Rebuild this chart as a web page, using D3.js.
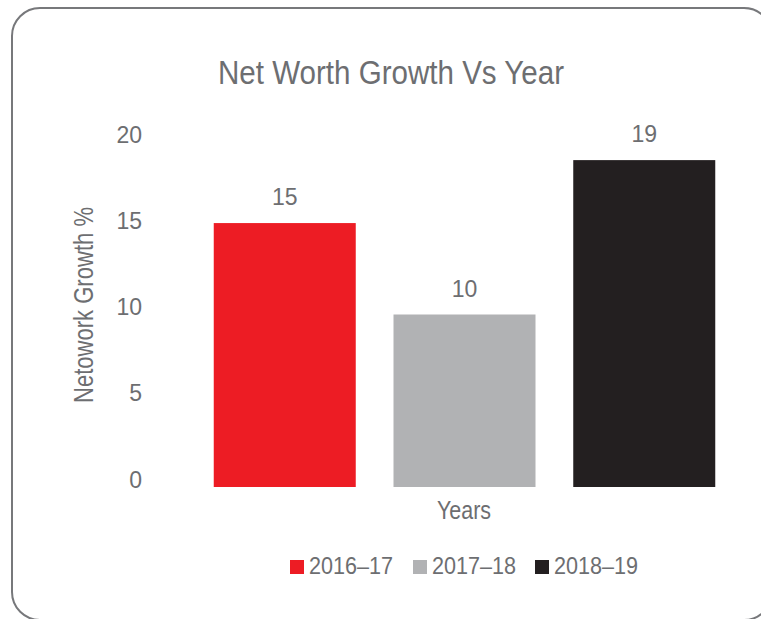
<!DOCTYPE html>
<html>
<head>
<meta charset="utf-8">
<script src="https://cdn.jsdelivr.net/npm/d3@7"></script>
<style>
  body { margin: 0; background: #fff; }
  svg { display: block; }
  text { font-family: "Liberation Sans Narrow", "Liberation Sans", Arial, sans-serif; fill: #6d6e71; }
</style>
</head>
<body>
<svg id="chart"></svg>
<script>
const categories = ["2016–17", "2017–18", "2018–19"]
const values = [15.3, 10.0, 18.95]
const colors = ["#ed1c24", "#b1b2b4", "#231f20"]
const yTicks = [0, 5, 10, 15, 20]

const width = 761
const height = 619
const fmt = d3.format(".0f")

const svg = d3.select("#chart").attr("width", width).attr("height", height)

// card border
svg.append("rect")
  .attr("x", 12).attr("y", 8)
  .attr("width", 760).attr("height", 612)
  .attr("rx", 28)
  .attr("fill", "none")
  .attr("stroke", "#77787b")
  .attr("stroke-width", 2)

svg.append("text")
  .attr("x", 218).attr("y", 84)
  .attr("font-size", 34)
  .attr("textLength", 346)
  .attr("lengthAdjust", "spacingAndGlyphs")
  .text("Net Worth Growth Vs Year")

const x = d3.scaleBand()
  .domain(categories)
  .range([176, 753])
  .padding(0.21)

const y = d3.scaleLinear()
  .domain([0, 20])
  .range([487, 142])

// y axis, labels only
svg.append("g")
  .attr("transform", "translate(148,0)")
  .call(d3.axisLeft(y).tickValues(yTicks).tickSize(0).tickPadding(6))
  .call(g => g.select(".domain").remove())
  .call(g => g.selectAll("text")
    .attr("dy", "0")
    .attr("font-size", 23)
    .attr("fill", "#6d6e71"))
  .attr("font-family", null)

svg.append("text")
  .attr("transform", "translate(93,305) rotate(-90)")
  .attr("text-anchor", "middle")
  .attr("font-size", 28)
  .attr("textLength", 196)
  .attr("lengthAdjust", "spacingAndGlyphs")
  .text("Netowork Growth %")

svg.append("g")
  .selectAll("rect")
  .data(values)
  .join("rect")
  .attr("x", (d, i) => x(categories[i]))
  .attr("y", d => y(d))
  .attr("width", x.bandwidth())
  .attr("height", d => y(0) - y(d))
  .attr("fill", (d, i) => colors[i])

svg.append("g")
  .selectAll("text")
  .data(values)
  .join("text")
  .attr("x", (d, i) => x(categories[i]) + x.bandwidth() / 2)
  .attr("y", d => y(d) - 18)
  .attr("text-anchor", "middle")
  .attr("font-size", 23)
  .text(d => fmt(d))

svg.append("text")
  .attr("x", 464).attr("y", 519)
  .attr("text-anchor", "middle")
  .attr("font-size", 26)
  .attr("textLength", 54)
  .attr("lengthAdjust", "spacingAndGlyphs")
  .text("Years")

// legend
const legendX = [290, 413, 535]
const legend = svg.append("g")
  .selectAll("g")
  .data(categories)
  .join("g")
  .attr("transform", (d, i) => `translate(${legendX[i]},560)`)

legend.append("rect")
  .attr("width", 14).attr("height", 14)
  .attr("fill", (d, i) => colors[i])

legend.append("text")
  .attr("x", 19).attr("y", 14)
  .attr("font-size", 23)
  .attr("textLength", 84)
  .attr("lengthAdjust", "spacingAndGlyphs")
  .text(d => d)
</script>
</body>
</html>
